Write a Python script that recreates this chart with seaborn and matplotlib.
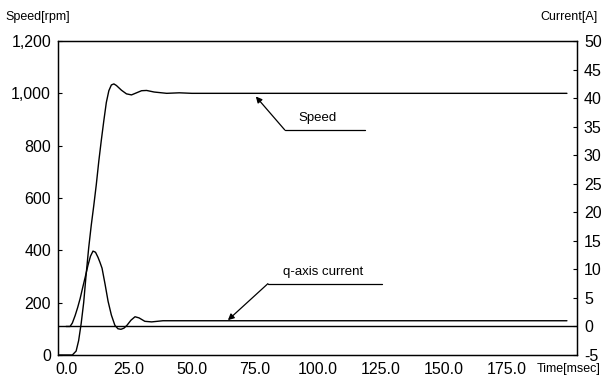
import matplotlib
matplotlib.use("Agg")
import matplotlib.pyplot as plt
import seaborn as sns
import pandas as pd
from matplotlib.ticker import FuncFormatter

# ---- data ----
speed_t = [-3.2, 0, 2.5, 4, 5, 6, 7, 8, 9, 10, 11, 12, 13, 14, 15, 16, 17, 18, 19,
           20, 22, 24, 26, 28, 30, 32, 35, 40, 45, 50, 199]
speed_rpm = [0, 0, 0, 15, 55, 120, 200, 310, 410, 495, 570, 650, 740, 820, 895, 965,
             1010, 1032, 1036, 1030, 1012, 998, 994, 1002, 1010, 1011, 1005, 1000,
             1002, 1000, 1000]

curr_t = [0, 1.6, 2.5, 3.6, 4.6, 5.6, 6.6, 7.7, 8.7, 9.7, 10.7, 11.7, 12.7, 13.5,
          14.3, 15.5, 16.7, 18, 19.4, 20.6, 21.8, 23, 24.2, 25.8, 27.4, 29, 31.3,
          34, 38.5, 199]
curr_a = [0, 0, 0.6, 1.9, 3.3, 4.9, 6.8, 8.8, 10.7, 12.3, 13.2, 13.0, 12.1, 11.2,
          10.2, 7.4, 4.4, 2.0, 0.2, -0.4, -0.5, -0.3, 0.2, 1.1, 1.7, 1.5, 0.9,
          0.8, 1.0, 1.0]

x_ticks = [0, 25, 50, 75, 100, 125, 150, 175]
x_labels = ["0.0", "25.0", "50.0", "75.0", "100.0", "125.0", "150.0", "175.0"]
speed_ticks = [0, 200, 400, 600, 800, 1000, 1200]
curr_ticks = [-5, 0, 5, 10, 15, 20, 25, 30, 35, 40, 45, 50]

speed_df = pd.DataFrame({"t": speed_t, "v": speed_rpm})
curr_df = pd.DataFrame({"t": curr_t, "v": curr_a})

sns.set_style("white")
plt.rcParams["font.family"] = ["Liberation Sans", "DejaVu Sans"]
plt.rcParams["text.color"] = "black"
plt.rcParams["xtick.color"] = "black"
plt.rcParams["ytick.color"] = "black"

fig = plt.figure(figsize=(6.03, 3.85), dpi=100)
ax = fig.add_axes([58 / 603, 30 / 385, (577 - 58) / 603, (355 - 41) / 385])
ax2 = ax.twinx()

sns.lineplot(data=speed_df, x="t", y="v", ax=ax, color="black", linewidth=1.0,
             estimator=None, sort=False)
sns.lineplot(data=curr_df, x="t", y="v", ax=ax2, color="black", linewidth=1.0,
             estimator=None, sort=False)
ax2.axhline(0, color="black", linewidth=1.0)

ax.set_xlim(-3.2, 203)
ax.set_ylim(0, 1200)
ax2.set_ylim(-5, 50)

ax.set_xticks(x_ticks)
ax.set_xticklabels(x_labels)
ax.set_yticks(speed_ticks)
ax.yaxis.set_major_formatter(FuncFormatter(lambda v, p: f"{int(v):,}"))
ax2.set_yticks(curr_ticks)
ax2.set_yticklabels([str(c) for c in curr_ticks])
for a in (ax, ax2):
    a.tick_params(axis="both", direction="in", length=3, width=0.8, labelsize=11.5,
                  pad=5, colors="black", labelcolor="black")
    a.set_xlabel("")
    a.set_ylabel("")
    for s in a.spines.values():
        s.set_color("black")
        s.set_linewidth(0.9)

fig.text(5 / 603, 1 - 17 / 385, "Speed[rpm]", fontsize=9, va="center", ha="left",
         color="black")
fig.text(598 / 603, 1 - 17 / 385, "Current[A]", fontsize=9, va="center", ha="right",
         color="black")
fig.text(601 / 603, 1 - 369 / 385, "Time[msec]", fontsize=9, va="center", ha="right",
         color="black")

# annotations
ax.annotate("", xy=(75.4, 988), xytext=(86.9, 860),
            arrowprops=dict(arrowstyle="-|>", color="black", lw=0.9,
                            mutation_scale=9, shrinkA=0, shrinkB=0))
ax.plot([86.9, 118.7], [860, 860], color="black", lw=0.9)
ax.text(100, 905, "Speed", fontsize=9.5, ha="center", va="center", color="black")

ax2.annotate("", xy=(64.3, 1.1), xytext=(80.2, 7.5),
             arrowprops=dict(arrowstyle="-|>", color="black", lw=0.9,
                             mutation_scale=9, shrinkA=0, shrinkB=0))
ax2.plot([80.2, 125.4], [7.5, 7.5], color="black", lw=0.9)
ax2.text(102, 9.6, "q-axis current", fontsize=9.5, ha="center", va="center",
         color="black")

fig.savefig("out.png", dpi=100)
